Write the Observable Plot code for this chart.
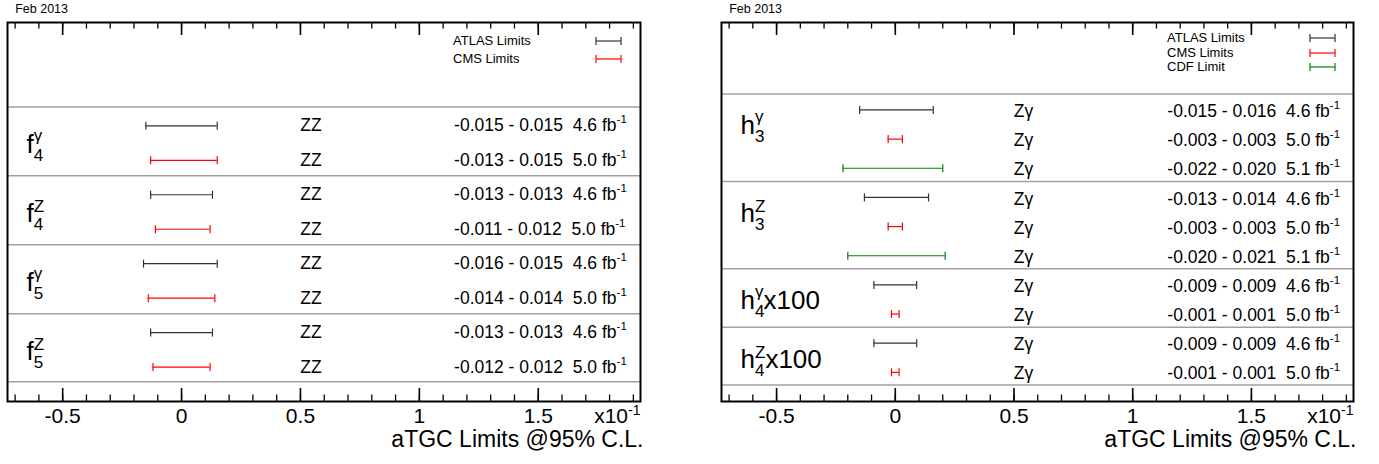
<!DOCTYPE html>
<html>
<head>
<meta charset="utf-8">
<script src="https://cdn.jsdelivr.net/npm/d3@7"></script>
<script src="https://cdn.jsdelivr.net/npm/@observablehq/plot@0.6"></script>
<style>
  body { margin: 0; background: #fff; font-family: "Liberation Sans", Arial, Helvetica, sans-serif; }
  #wrap { position: relative; width: 1379px; height: 464px; display: flex; overflow: hidden; }
  .panel { position: relative; height: 464px; }
  .panel svg { display: block; }
  .leg { position: absolute; font-size: 13px; line-height: 13px; white-space: nowrap; color: #000; }
  .legSample { position: absolute; overflow: visible; }
</style>
</head>
<body>
<div id="wrap"></div>
<script>
// ---------------- data: left panel (ZZ final state) ----------------
const zzLabelMain = ["f", "f", "f", "f"];
const zzLabelSup = ["γ", "Z", "γ", "Z"];
const zzLabelSub = ["4", "4", "5", "5"];
const zzLabelSuffix = ["", "", "", ""];
const zzRowGroup = [0, 0, 1, 1, 2, 2, 3, 3];
const zzExperiment = ["ATLAS", "CMS", "ATLAS", "CMS", "ATLAS", "CMS", "ATLAS", "CMS"];
const zzProcess = ["ZZ", "ZZ", "ZZ", "ZZ", "ZZ", "ZZ", "ZZ", "ZZ"];
const zzLow = [-0.015, -0.013, -0.013, -0.011, -0.016, -0.014, -0.013, -0.012];
const zzHigh = [0.015, 0.015, 0.013, 0.012, 0.015, 0.014, 0.013, 0.012];
const zzLimitText = ["-0.015 - 0.015", "-0.013 - 0.015", "-0.013 - 0.013", "-0.011 - 0.012",
                     "-0.016 - 0.015", "-0.014 - 0.014", "-0.013 - 0.013", "-0.012 - 0.012"];
const zzLumi = ["4.6", "5.0", "4.6", "5.0", "4.6", "5.0", "4.6", "5.0"];

// ---------------- data: right panel (Zγ final state) ----------------
const zgLabelMain = ["h", "h", "h", "h"];
const zgLabelSup = ["γ", "Z", "γ", "Z"];
const zgLabelSub = ["3", "3", "4", "4"];
const zgLabelSuffix = ["", "", "x100", "x100"];
const zgRowGroup = [0, 0, 0, 1, 1, 1, 2, 2, 3, 3];
const zgExperiment = ["ATLAS", "CMS", "CDF", "ATLAS", "CMS", "CDF", "ATLAS", "CMS", "ATLAS", "CMS"];
const zgProcess = ["Zγ", "Zγ", "Zγ", "Zγ", "Zγ", "Zγ", "Zγ", "Zγ", "Zγ", "Zγ"];
const zgLow = [-0.015, -0.003, -0.022, -0.013, -0.003, -0.020, -0.009, -0.0016, -0.009, -0.0016];
const zgHigh = [0.016, 0.003, 0.020, 0.014, 0.003, 0.021, 0.009, 0.0016, 0.009, 0.0016];
const zgLimitText = ["-0.015 - 0.016", "-0.003 - 0.003", "-0.022 - 0.020", "-0.013 - 0.014", "-0.003 - 0.003",
                     "-0.020 - 0.021", "-0.009 - 0.009", "-0.001 - 0.001", "-0.009 - 0.009", "-0.001 - 0.001"];
const zgLumi = ["4.6", "5.0", "5.1", "4.6", "5.0", "5.1", "4.6", "5.0", "4.6", "5.0"];

// ---------------- axis ticks and texts ----------------
const majorTicks = [-0.05, 0, 0.05, 0.10, 0.15];
const minorTicks = [-0.07, -0.06, -0.05, -0.04, -0.03, -0.02, -0.01, 0, 0.01, 0.02, 0.03, 0.04, 0.05, 0.06, 0.07,
                    0.08, 0.09, 0.10, 0.11, 0.12, 0.13, 0.14, 0.15, 0.16, 0.17, 0.18, 0.19];
const tickLabels = ["-0.5", "0", "0.5", "1", "1.5"];
const axisExponent = ["x10"];
const axisTitle = ["aTGC Limits @95% C.L."];
const dateStamp = ["Feb 2013"];
const zzLegend = ["ATLAS", "CMS"];
const zgLegend = ["ATLAS", "CMS", "CDF"];
const legendNames = {ATLAS: "ATLAS Limits", CMS: "CMS Limits", CDF: "CDF Limit"};

// ---------------- style / layout ----------------
const FONT = "Liberation Sans, Arial, Helvetica, sans-serif";
const COLORS = {ATLAS: "#333333", CMS: "#ff0000", CDF: "#008000"};
const X_DOMAIN = [-0.0732, 0.1930];
const PROCESS_X = 0.0499;
const LIMIT_X = 0.1146;
const H = 464, MT = 22, MB = 63;
const PLOT_H = H - MT - MB;

const capSymbol = {
  draw(context, size) {
    const r = Math.sqrt(size / Math.PI);
    context.moveTo(0, -r);
    context.lineTo(0, r);
  }
};

function buildRows(low, high, group, exp, proc, limitText, lumi) {
  return low.map((lo, i) => ({
    row: i, group: group[i], exp: exp[i], lo, hi: high[i],
    process: proc[i], limit: limitText[i], lumi: lumi[i]
  }));
}
function buildGroups(main, sup, sub, suffix, rows) {
  return main.map((m, k) => {
    const first = rows.findIndex(r => r.group === k);
    return {main: m, sup: sup[k], sub: sub[k], suffix: suffix[k], row: first + 0.5};
  });
}

function makePanel({rows, groups, width, marginLeft, marginRight, textDy, legendItems, legendTextX, legendLineX, legendY}) {
  const N = rows.length;
  const groupStarts = groups.map((g, k) => rows.findIndex(r => r.group === k));
  const separators = groupStarts.map(s => s - 0.55).concat([N - 0.57]);
  const ink = d => COLORS[d.exp];

  const svg = Plot.plot({
    width, height: H,
    marginTop: MT, marginBottom: MB, marginLeft, marginRight,
    style: {fontFamily: FONT, background: "white", color: "black", overflow: "visible"},
    x: {domain: X_DOMAIN, axis: null},
    y: {domain: [-3, N], reverse: true, axis: null},
    color: {type: "identity"},
    marks: [
      Plot.ruleY(separators, {stroke: "#a0a0a0", strokeWidth: 1.5}),
      // inward ticks, bottom and top
      Plot.ruleX(minorTicks, {stroke: "black", strokeWidth: 1.3, insetTop: PLOT_H - 6.5}),
      Plot.ruleX(majorTicks, {stroke: "black", strokeWidth: 1.6, insetTop: PLOT_H - 13}),
      Plot.ruleX(minorTicks, {stroke: "black", strokeWidth: 1.3, insetBottom: PLOT_H - 6.5}),
      Plot.ruleX(majorTicks, {stroke: "black", strokeWidth: 1.6, insetBottom: PLOT_H - 13}),
      Plot.frame({stroke: "black", strokeWidth: 2}),
      // limits as error bars
      Plot.ruleY(rows, {y: "row", x1: "lo", x2: "hi", stroke: ink, strokeWidth: 1.2}),
      Plot.dot(rows, {x: "lo", y: "row", symbol: capSymbol, r: 4, fill: "none", stroke: ink, strokeWidth: 1.2}),
      Plot.dot(rows, {x: "hi", y: "row", symbol: capSymbol, r: 4, fill: "none", stroke: ink, strokeWidth: 1.2}),
      // row texts (text mark order matters for the tspan pass below)
      Plot.text(rows, {x: () => PROCESS_X, y: "row", text: "process", textAnchor: "start", lineAnchor: "middle",
                       fontSize: 17.5, dy: textDy, fill: "black"}),
      Plot.text(rows, {x: () => LIMIT_X, y: "row", text: d => `${d.limit}\u00a0 ${d.lumi} fb`, textAnchor: "start",
                       lineAnchor: "middle", fontSize: 17.5, dy: textDy, fill: "black"}),
      Plot.text(groups, {frameAnchor: "left", y: "row", text: "main", textAnchor: "start", lineAnchor: "middle",
                         dx: 19, dy: 1.5, fontSize: 26, fill: "black"}),
      Plot.text(majorTicks, {x: d => d, frameAnchor: "bottom", text: (d, i) => tickLabels[i], lineAnchor: "middle",
                             fontSize: 21, dy: 15, fill: "black"}),
      Plot.text(axisExponent, {frameAnchor: "bottom-right", textAnchor: "end", lineAnchor: "middle",
                               fontSize: 21, dy: 15, fill: "black"}),
      Plot.text(axisTitle, {frameAnchor: "bottom-right", textAnchor: "end", lineAnchor: "middle",
                            fontSize: 23, dx: 3, dy: 38.3, fill: "black"}),
      Plot.text(dateStamp, {frameAnchor: "top-left", textAnchor: "start", lineAnchor: "middle",
                            fontSize: 12.5, dx: 7.7, dy: -13.3, fill: "black"})
    ]
  });

  // superscripts / subscripts as tspans
  const textGroups = Array.from(svg.querySelectorAll(":scope > g[aria-label='text']"));
  const [gProc, gLimit, gLabel, gTicks, gExp] = textGroups;
  gLimit.querySelectorAll("text").forEach(t => {
    d3.select(t).append("tspan").attr("dy", -8).attr("font-size", 11.5).text("-1");
  });
  gExp.querySelectorAll("text").forEach(t => {
    d3.select(t).append("tspan").attr("dy", -8.5).attr("font-size", 14).text("-1");
  });
  gLabel.querySelectorAll("text").forEach((node, k) => {
    const g = groups[k];
    const t = d3.select(node);
    t.append("tspan").attr("font-size", 17).attr("dy", 8).text(g.sub);
    const supShift = g.sup === "γ" ? -20 : -18;
    t.append("tspan").attr("font-size", 17).attr("dx", -9.45).attr("dy", supShift).text(g.sup);
    if (g.suffix) t.append("tspan").attr("font-size", 26).attr("dy", -(8 + supShift)).text(g.suffix);
  });

  const div = document.createElement("div");
  div.className = "panel";
  div.style.width = width + "px";
  div.appendChild(svg);

  // legend (HTML overlay)
  legendItems.forEach((exp, k) => {
    const y = legendY[k];
    const lab = document.createElement("div");
    lab.className = "leg";
    lab.style.left = legendTextX + "px";
    lab.style.top = (y - 6.5) + "px";
    lab.textContent = legendNames[exp];
    div.appendChild(lab);
    const s = d3.create("svg").attr("class", "legSample").attr("width", 27).attr("height", 10)
      .style("left", (legendLineX - 1) + "px").style("top", (y - 5) + "px");
    const c = COLORS[exp];
    s.append("line").attr("x1", 1).attr("x2", 26).attr("y1", 5).attr("y2", 5).attr("stroke", c).attr("stroke-width", 1.2);
    s.append("line").attr("x1", 1).attr("x2", 1).attr("y1", 1).attr("y2", 9).attr("stroke", c).attr("stroke-width", 1.2);
    s.append("line").attr("x1", 26).attr("x2", 26).attr("y1", 1).attr("y2", 9).attr("stroke", c).attr("stroke-width", 1.2);
    div.appendChild(s.node());
  });
  return div;
}

const zzRows = buildRows(zzLow, zzHigh, zzRowGroup, zzExperiment, zzProcess, zzLimitText, zzLumi);
const zgRows = buildRows(zgLow, zgHigh, zgRowGroup, zgExperiment, zgProcess, zgLimitText, zgLumi);
const zzGroups = buildGroups(zzLabelMain, zzLabelSup, zzLabelSub, zzLabelSuffix, zzRows);
const zgGroups = buildGroups(zgLabelMain, zgLabelSup, zgLabelSub, zgLabelSuffix, zgRows);

const wrap = document.getElementById("wrap");
wrap.appendChild(makePanel({
  rows: zzRows, groups: zzGroups, width: 690, marginLeft: 7, marginRight: 50, textDy: 0,
  legendItems: zzLegend, legendTextX: 453, legendLineX: 596, legendY: [40.7, 58.5]
}));
wrap.appendChild(makePanel({
  rows: zgRows, groups: zgGroups, width: 689, marginLeft: 31, marginRight: 26, textDy: 1.5,
  legendItems: zgLegend, legendTextX: 477, legendLineX: 620, legendY: [37.7, 52.7, 66.7]
}));
</script>
</body>
</html>
